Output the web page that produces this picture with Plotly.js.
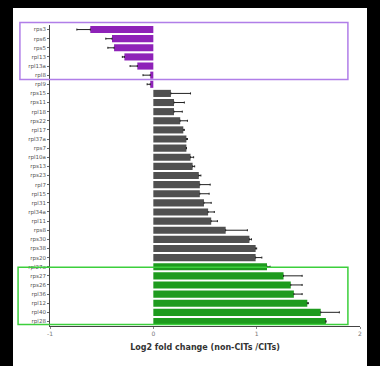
<!DOCTYPE html>
<html>
<head>
<meta charset="utf-8">
<script src="https://cdn.plot.ly/plotly-3.0.1.min.js"></script>
<style>
  html, body { margin: 0; padding: 0; background: #000; width: 380px; height: 366px; overflow: hidden; }
  #chart { position: absolute; left: 13px; top: 8px; width: 354px; height: 358px; background: #fff; }
</style>
</head>
<body>
<div id="chart"></div>
<script>
// Ribosomal protein genes, listed top to bottom
var genes = ["rps3", "rps6", "rps5", "rpl13", "rpl13a", "rpl8", "rpl9",
  "rps15", "rps11", "rpl18", "rps22", "rpl17", "rpl37a", "rps7", "rpl10a", "rps13", "rps23",
  "rpl7", "rpl15", "rpl31", "rpl34a", "rpl11", "rps8", "rps30", "rps38", "rps20",
  "rpl27a", "rps27", "rps26", "rpl36", "rpl12", "rpl40", "rpl28"];
// Log2 fold change (non-CITs / CITs)
var log2fc = [-0.61, -0.40, -0.38, -0.28, -0.155, -0.03, -0.03,
  0.17, 0.20, 0.20, 0.26, 0.29, 0.32, 0.32, 0.36, 0.38, 0.44,
  0.45, 0.45, 0.49, 0.53, 0.56, 0.70, 0.93, 0.99, 0.99,
  1.10, 1.26, 1.33, 1.36, 1.49, 1.62, 1.67];
// Error magnitude (drawn away from zero)
var errors = [0.13, 0.06, 0.06, 0.02, 0.07, 0.07, 0.03,
  0.19, 0.10, 0.08, 0.07, 0.01, 0.01, 0.0, 0.03, 0.02, 0.02,
  0.10, 0.09, 0.07, 0.06, 0.06, 0.21, 0.02, 0.01, 0.06,
  0.03, 0.18, 0.11, 0.08, 0.01, 0.18, 0.0];
// Group of each gene
var groups = ["down", "down", "down", "down", "down", "down", "down",
  "mid", "mid", "mid", "mid", "mid", "mid", "mid", "mid", "mid", "mid",
  "mid", "mid", "mid", "mid", "mid", "mid", "mid", "mid", "mid",
  "up", "up", "up", "up", "up", "up", "up"];
var groupColors = { down: "#8e22b8", mid: "#505050", up: "#1e9b1e" };
var xTicks = [-1, 0, 1, 2];

var errPlus = log2fc.map(function (v, i) { return v >= 0 ? errors[i] : 0; });
var errMinus = log2fc.map(function (v, i) { return v < 0 ? errors[i] : 0; });

var trace = {
  type: "bar",
  orientation: "h",
  y: genes,
  x: log2fc,
  width: 0.78,
  marker: { color: groups.map(function (g) { return groupColors[g]; }), line: { width: 0 } },
  error_x: {
    type: "data", symmetric: false,
    array: errPlus, arrayminus: errMinus,
    color: "#222", thickness: 1, width: 1
  },
  hoverinfo: "x+y"
};

var layout = {
  width: 354, height: 358,
  margin: { l: 37, r: 7, t: 17, b: 40 },
  paper_bgcolor: "#fff",
  plot_bgcolor: "#fff",
  showlegend: false,
  xaxis: {
    range: [-1, 2],
    tickvals: xTicks,
    ticktext: xTicks.map(String),
    showgrid: false,
    zeroline: false,
    showline: true, linecolor: "#444", linewidth: 1,
    ticks: "outside", ticklen: 2, tickcolor: "#888",
    tickfont: { family: "DejaVu Sans, Arial", size: 6, color: "#777" },
    title: { text: "<b>Log2 fold change (non-CITs /CITs)</b>", font: { family: "DejaVu Sans, Arial", size: 8, color: "#333" }, standoff: 8 }
  },
  yaxis: {
    type: "category",
    autorange: "reversed",
    showgrid: false,
    zeroline: false,
    showline: true, linecolor: "#444", linewidth: 1,
    ticks: "outside", ticklen: 2, tickcolor: "#666",
    tickfont: { family: "DejaVu Sans, Arial", size: 5.5, color: "#555" }
  },
  shapes: [
    { type: "rect", xref: "paper", yref: "paper", x0: -0.097, x1: 0.961, y0: 0.819, y1: 1.008,
      line: { color: "#b07ee8", width: 1.5 }, fillcolor: "rgba(0,0,0,0)" },
    { type: "rect", xref: "paper", yref: "paper", x0: -0.103, x1: 0.961, y0: 0.005, y1: 0.195,
      line: { color: "#3ccf3c", width: 1.5 }, fillcolor: "rgba(0,0,0,0)" }
  ]
};

Plotly.newPlot("chart", [trace], layout, { displayModeBar: false, staticPlot: true });
</script>
</body>
</html>
